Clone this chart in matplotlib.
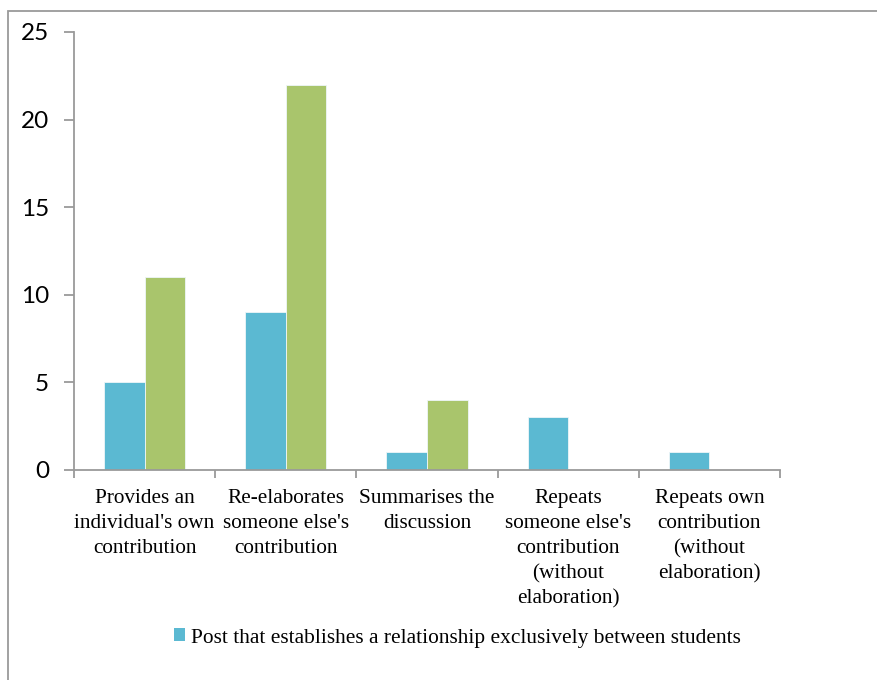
import matplotlib
matplotlib.use('Agg')
import matplotlib.pyplot as plt
import numpy as np
from matplotlib.patches import Rectangle, Patch

# categories and counts
categories = [
    "Provides an\nindividual's own\ncontribution",
    "Re-elaborates\nsomeone else's\ncontribution",
    "Summarises the\ndiscussion",
    "Repeats\nsomeone else's\ncontribution\n(without\nelaboration)",
    "Repeats own\ncontribution\n(without\nelaboration)",
]
students_only = [5, 9, 1, 3, 1]
with_teacher = [11, 22, 4, 0, 0]
y_ticks = [0, 5, 10, 15, 20, 25]

c_blue = '#5BB9D2'
c_green = '#A9C56C'
c_axis = '#9A9A9A'

fig = plt.figure(figsize=(8.78, 6.80), dpi=100)
ax = fig.add_axes([74/878, 1 - 470/680, (780 - 74)/878, (470 - 32)/680])

# outer frame (open to the right and bottom)
fig.patches.append(Rectangle((8/878, -0.05), 1.2, 1 - 11/680 + 0.05,
                             transform=fig.transFigure, fill=False,
                             edgecolor=c_axis, linewidth=1.3))

x = np.arange(len(categories))
w = 0.287
ax.bar(x - w/2, students_only, w, color=c_blue, edgecolor='#eef6f8', linewidth=0.6)
ax.bar(x + w/2, with_teacher, w, color=c_green, edgecolor='#eef6f8', linewidth=0.6)

ax.set_xlim(-0.5, len(categories) - 0.5)
ax.set_ylim(0, 25)
ax.set_yticks(y_ticks)
ax.set_yticklabels([str(v) for v in y_ticks], fontsize=17.5, family='Lato')
ax.tick_params(axis='y', direction='out', length=7, width=1.3, color=c_axis, pad=11)

ax.set_xticks(x)
ax.set_xticklabels(categories, fontsize=15.3, family='Liberation Serif', linespacing=1.42)
ax.tick_params(axis='x', which='major', length=0, pad=14)
ax.set_xticks(np.arange(-0.5, len(categories)), minor=True)
ax.tick_params(axis='x', which='minor', direction='out', length=6, width=1.3, color=c_axis)

for s in ['top', 'right']:
    ax.spines[s].set_visible(False)
for s in ['left', 'bottom']:
    ax.spines[s].set_color(c_axis)
    ax.spines[s].set_linewidth(1.3)

fig.legend(handles=[Patch(facecolor=c_blue,
                          label='Post that establishes a relationship exclusively between students')],
           loc='center', bbox_to_anchor=(457/878, 1 - 638/680), frameon=False,
           prop={'family': 'Liberation Serif', 'size': 15.4},
           handlelength=0.55, handleheight=0.55, handletextpad=0.25)

fig.savefig('out.png', dpi=100)
